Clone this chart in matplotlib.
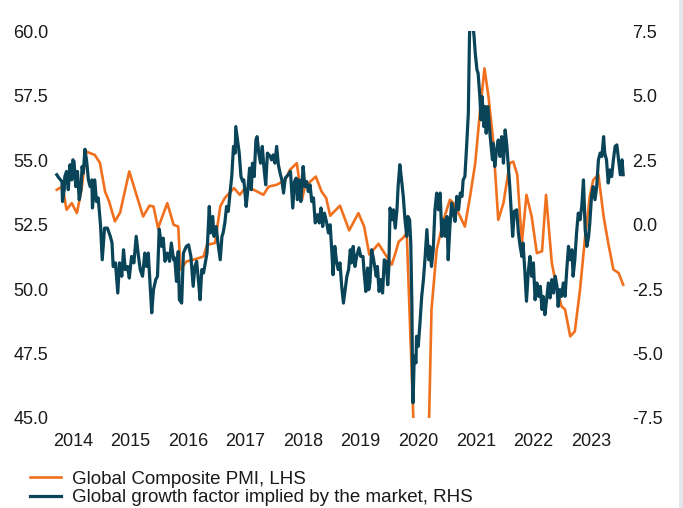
import matplotlib
matplotlib.use("Agg")
import matplotlib.pyplot as plt
from matplotlib.patches import Rectangle

plt.rcParams['font.family'] = ['Liberation Sans', 'DejaVu Sans']
plt.rcParams['axes.unicode_minus'] = False

# Global Composite PMI (LHS), dates as decimal years
pmi_t = [2014.07, 2014.17, 2014.24, 2014.33, 2014.42, 2014.50, 2014.58, 2014.73, 2014.82, 2014.91,
         2014.98, 2015.08, 2015.17, 2015.33, 2015.57, 2015.68, 2015.75, 2015.83, 2015.99, 2016.10,
         2016.18, 2016.22, 2016.32, 2016.50, 2016.62, 2016.68, 2016.82, 2016.91, 2016.99, 2017.15,
         2017.25, 2017.34, 2017.49, 2017.66, 2017.75, 2017.89, 2018.04, 2018.12, 2018.24, 2018.33,
         2018.38, 2018.57, 2018.67, 2018.75, 2018.82, 2018.99, 2019.15, 2019.31, 2019.41, 2019.50,
         2019.66, 2019.80, 2019.89, 2019.96, 2020.01, 2020.09, 2020.15, 2020.32, 2020.40, 2020.49,
         2020.58, 2020.67, 2020.79, 2020.90, 2020.96, 2021.05, 2021.16, 2021.25, 2021.34, 2021.42,
         2021.50, 2021.57, 2021.65, 2021.74, 2021.83, 2021.94, 2022.00, 2022.07, 2022.15, 2022.23,
         2022.32, 2022.41, 2022.50, 2022.57, 2022.67, 2022.76, 2022.84, 2022.90, 2022.99, 2023.07,
         2023.16, 2023.25, 2023.33, 2023.39, 2023.48, 2023.57, 2023.65, 2023.74, 2023.83, 2023.91]
pmi_v = [53.86, 53.98, 53.08, 53.34, 52.95, 53.86, 55.34, 55.21, 54.90, 53.78,
         53.40, 52.63, 52.97, 54.57, 52.82, 53.24, 53.21, 52.37, 53.34, 52.50,
         52.43, 50.76, 51.07, 51.18, 51.27, 51.72, 51.79, 53.21, 53.54, 53.92,
         53.66, 53.92, 53.86, 53.66, 53.98, 54.05, 54.24, 54.63, 54.89, 53.47,
         53.98, 54.37, 53.79, 53.54, 52.85, 53.24, 52.28, 52.95, 52.43, 51.34,
         51.76, 51.27, 50.95, 51.45, 51.84, 52.00, 52.19, 41.50, 28.00, 40.00,
         49.21, 51.53, 52.69, 53.47, 53.34, 52.95, 52.43, 53.60, 54.89, 56.83,
         58.57, 57.47, 55.79, 52.69, 53.34, 54.89, 54.95, 54.44, 51.80, 53.66,
         52.82, 51.40, 51.47, 53.66, 51.02, 49.98, 49.33, 49.21, 48.17, 48.36,
         49.98, 52.05, 53.60, 54.24, 54.44, 52.82, 51.79, 50.76, 50.63, 50.17]

# Global growth factor implied by the market (RHS)
gf_t = [2014.07, 2014.11, 2014.16, 2014.17, 2014.20, 2014.21, 2014.24, 2014.27, 2014.30, 2014.33,
        2014.35, 2014.37, 2014.40, 2014.43, 2014.46, 2014.49, 2014.51, 2014.53, 2014.56, 2014.59,
        2014.62, 2014.65, 2014.68, 2014.69, 2014.73, 2014.76, 2014.79, 2014.83, 2014.86, 2014.90,
        2014.95, 2015.00, 2015.03, 2015.05, 2015.09, 2015.13, 2015.16, 2015.20, 2015.23, 2015.26,
        2015.30, 2015.33, 2015.37, 2015.41, 2015.45, 2015.49, 2015.52, 2015.56, 2015.60, 2015.63,
        2015.66, 2015.69, 2015.72, 2015.75, 2015.79, 2015.82, 2015.85, 2015.89, 2015.92, 2015.95,
        2015.99, 2016.03, 2016.06, 2016.10, 2016.12, 2016.15, 2016.18, 2016.20, 2016.24, 2016.27,
        2016.32, 2016.36, 2016.40, 2016.44, 2016.47, 2016.50, 2016.53, 2016.56, 2016.59, 2016.62,
        2016.68, 2016.72, 2016.74, 2016.78, 2016.80, 2016.84, 2016.87, 2016.91, 2016.94, 2016.96,
        2016.99, 2017.02, 2017.05, 2017.08, 2017.11, 2017.14, 2017.17, 2017.18, 2017.21, 2017.24,
        2017.27, 2017.30, 2017.32, 2017.36, 2017.39, 2017.42, 2017.45, 2017.47, 2017.50, 2017.53,
        2017.55, 2017.58, 2017.61, 2017.64, 2017.67, 2017.70, 2017.73, 2017.78, 2017.80, 2017.83,
        2017.86, 2017.89, 2017.92, 2017.95, 2017.98, 2018.01, 2018.04, 2018.09, 2018.13, 2018.17,
        2018.20, 2018.23, 2018.25, 2018.28, 2018.31, 2018.35, 2018.38, 2018.41, 2018.44, 2018.47,
        2018.50, 2018.53, 2018.56, 2018.60, 2018.63, 2018.66, 2018.69, 2018.72, 2018.76, 2018.79,
        2018.82, 2018.85, 2018.87, 2018.90, 2018.93, 2018.96, 2018.99, 2019.02, 2019.05, 2019.08,
        2019.11, 2019.14, 2019.17, 2019.19, 2019.22, 2019.25, 2019.28, 2019.32, 2019.35, 2019.39,
        2019.41, 2019.44, 2019.47, 2019.49, 2019.51, 2019.54, 2019.57, 2019.62, 2019.64, 2019.67,
        2019.70, 2019.73, 2019.76, 2019.79, 2019.82, 2019.84, 2019.86, 2019.89, 2019.92, 2019.95,
        2019.98, 2020.00, 2020.03, 2020.06, 2020.09, 2020.12, 2020.15, 2020.17, 2020.20, 2020.22,
        2020.24, 2020.25, 2020.26, 2020.28, 2020.31, 2020.32, 2020.35, 2020.38, 2020.41, 2020.44,
        2020.47, 2020.50, 2020.53, 2020.55, 2020.58, 2020.61, 2020.64, 2020.67, 2020.70, 2020.73,
        2020.76, 2020.79, 2020.82, 2020.85, 2020.87, 2020.90, 2020.93, 2020.96, 2020.99, 2021.02,
        2021.05, 2021.08, 2021.11, 2021.13, 2021.16, 2021.19, 2021.22, 2021.24, 2021.26, 2021.28,
        2021.32, 2021.34, 2021.37, 2021.39, 2021.42, 2021.44, 2021.46, 2021.49, 2021.51, 2021.53,
        2021.56, 2021.59, 2021.61, 2021.64, 2021.65, 2021.68, 2021.71, 2021.74, 2021.77, 2021.80,
        2021.83, 2021.86, 2021.89, 2021.92, 2021.94, 2021.97, 2021.99, 2022.02, 2022.06, 2022.09,
        2022.12, 2022.15, 2022.17, 2022.20, 2022.23, 2022.26, 2022.29, 2022.32, 2022.35, 2022.38,
        2022.41, 2022.44, 2022.47, 2022.50, 2022.52, 2022.55, 2022.58, 2022.61, 2022.64, 2022.67,
        2022.70, 2022.73, 2022.76, 2022.78, 2022.81, 2022.84, 2022.87, 2022.90, 2022.93, 2022.96,
        2022.99, 2023.02, 2023.04, 2023.07, 2023.10, 2023.13, 2023.16, 2023.19, 2023.22, 2023.25,
        2023.28, 2023.31, 2023.33, 2023.36, 2023.39, 2023.42, 2023.45, 2023.48, 2023.51, 2023.54,
        2023.57, 2023.59, 2023.62, 2023.65, 2023.68, 2023.71, 2023.74, 2023.77, 2023.80, 2023.83,
        2023.86, 2023.89, 2023.91]
gf_v = [1.94, 1.81, 1.68, 0.90, 1.36, 1.87, 2.07, 1.36, 2.33, 1.74,
        2.52, 2.45, 1.48, 2.07, 0.97, 1.36, 2.26, 2.00, 2.93, 2.45,
        1.74, 1.48, 1.74, 0.65, 1.74, 0.90, 1.04, 0.00, -1.36, -0.13,
        -0.13, -0.45, -0.71, -1.62, -1.48, -2.65, -1.48, -2.00, -0.97, -1.74,
        -1.62, -2.07, -1.23, -1.48, -0.45, -1.23, -1.74, -2.00, -1.10, -1.62,
        -1.10, -2.26, -3.42, -2.52, -2.13, -2.00, -0.17, -0.84, -0.52, -1.42,
        -1.10, -1.42, -0.71, -1.36, -1.29, -2.20, -1.04, -2.91, -3.04, -1.10,
        -0.84, -0.78, -1.23, -2.39, -1.62, -1.42, -2.13, -2.91, -1.74, -1.87,
        -1.10, 0.71, -0.32, 0.32, -0.45, -0.07, -0.71, -1.36, -0.45, -0.32,
        0.07, 0.71, 0.52, 1.23, 1.87, 3.04, 2.78, 3.81, 3.29, 2.78,
        1.87, 1.68, 1.74, 0.71, 1.36, 2.20, 1.36, 2.39, 1.87, 3.29,
        3.42, 2.78, 2.39, 3.04, 2.20, 1.55, 2.78, 2.65, 2.52, 2.71,
        2.39, 3.04, 2.33, 2.00, 1.74, 1.23, 1.81, 1.94, 2.07, 0.65,
        1.68, 1.81, 0.97, 1.74, 0.90, 2.26, 1.48, 1.68, 1.29, 1.55,
        0.90, 1.04, 0.07, 0.39, 0.07, 0.65, -0.07, 0.45, 0.07, -0.32,
        0.00, -1.10, -1.94, -0.84, -1.42, -1.74, -1.48, -2.39, -3.04, -2.52,
        -2.00, -1.74, -0.97, -1.48, -0.84, -1.62, -1.23, -0.90, -1.23, -1.23,
        -1.87, -2.59, -1.68, -2.52, -2.26, -0.97, -1.29, -2.00, -1.62, -2.59,
        -2.13, -2.65, -1.36, -1.42, -2.33, -1.62, 0.65, 0.19, 0.58, -0.13,
        0.58, 1.48, 2.33, 1.74, 1.10, 0.19, -0.45, 0.32, 0.19, -0.71,
        -3.17, -6.01, -6.91, -5.10, -5.36, -4.33, -4.72, -3.81, -2.78, -2.13,
        -1.23, -0.19, -1.36, -0.84, -1.62, -0.97, 0.58, 1.23, 0.58, 1.23,
        -0.45, 0.19, -0.45, 0.32, -1.36, -0.07, 0.84, 0.45, 0.13, 1.10,
        0.58, 1.23, 1.10, 1.74, 1.87, 3.04, 4.33, 7.30, 8.60, 8.20,
        7.30, 6.66, 6.01, 5.88, 4.97, 4.07, 4.97, 3.81, 4.59, 3.55,
        4.59, 3.68, 3.17, 2.52, 3.17, 2.26, 2.91, 3.29, 2.65, 3.42,
        2.39, 3.68, 3.04, 2.13, 1.48, 0.32, -0.45, 0.52, 0.58, -0.32,
        -0.84, -1.23, -0.71, -1.74, -2.97, -1.87, -1.23, -2.00, -1.48, -2.91,
        -2.26, -2.78, -2.39, -3.29, -2.78, -3.49, -2.91, -2.26, -2.84, -2.13,
        -2.65, -2.00, -2.39, -3.17, -2.52, -2.78, -2.26, -2.78, -1.74, -0.84,
        -1.36, -0.97, -2.00, -1.36, -0.32, 0.45, 0.19, 0.71, 1.74, -0.19,
        -0.84, -0.45, 0.07, 1.10, 1.48, 0.97, 1.48, 2.52, 2.78, 2.65,
        3.42, 2.78, 2.52, 1.62, 2.13, 1.87, 2.52, 3.04, 3.10, 2.52,
        1.94, 2.52, 1.94]

years = list(range(2014, 2024))
left_ticks = [45.0, 47.5, 50.0, 52.5, 55.0, 57.5, 60.0]
right_ticks = [-7.5, -5.0, -2.5, 0.0, 2.5, 5.0, 7.5]

orange = '#F0701E'
navy = '#0A4459'
txt = '#1a1a1a'

fig = plt.figure(figsize=(6.83, 5.08), dpi=100)
ax = fig.add_axes([0.0772, 0.1772, 0.8428, 0.7608])
ax2 = ax.twinx()

l1, = ax.plot(pmi_t, pmi_v, color=orange, lw=1.9, solid_joinstyle='round')
l2, = ax2.plot(gf_t, gf_v, color=navy, lw=2.3, solid_joinstyle='round')

ax.set_xlim(2014, 2024)
ax.set_ylim(45, 60)
ax2.set_ylim(-7.5, 7.5)

ax.set_xticks(years)
ax.set_xticklabels([str(y) for y in years], ha='left')
ax.set_yticks(left_ticks)
ax.set_yticklabels(['%.1f' % v for v in left_ticks])
ax2.set_yticks(right_ticks)
ax2.set_yticklabels(['%.1f' % v for v in right_ticks])

ax.tick_params(axis='x', length=0, pad=11, labelsize=13, colors=txt)
ax.tick_params(axis='y', length=0, pad=3, labelsize=13, colors=txt)
ax2.tick_params(axis='y', length=0, pad=3, labelsize=13, colors=txt)

for a in (ax, ax2):
    for s in a.spines.values():
        s.set_visible(False)

fig.legend([l1, l2],
           ['Global Composite PMI, LHS', 'Global growth factor implied by the market, RHS'],
           loc='upper left', bbox_to_anchor=(0.044, 0.073), frameon=False,
           prop={'size': 13.5}, handlelength=1.65, handletextpad=0.6, labelspacing=0.05,
           borderpad=0, borderaxespad=0, labelcolor=txt)

# light strip along the right edge
fig.patches.append(Rectangle((679 / 683, 0), 4 / 683, 1, transform=fig.transFigure,
                             facecolor='#E1E7EB', edgecolor='none'))

fig.savefig('out.png', dpi=100)
